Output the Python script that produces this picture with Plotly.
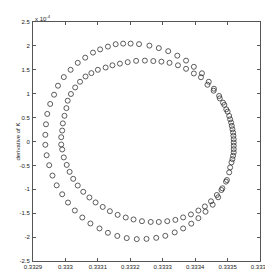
import plotly.graph_objects as go

# Outer loop (curvature K, dK/ds in units of 1e-4)
outer_K = [0.333518, 0.333515, 0.333511, 0.333505, 0.333496, 0.333486, 0.333474, 0.333458,
           0.333442, 0.333421, 0.333396, 0.333372, 0.333345, 0.333317, 0.333288, 0.333259,
           0.333227, 0.333201, 0.333178, 0.333155, 0.333131, 0.333107, 0.333085, 0.333061,
           0.333038, 0.333016, 0.332995, 0.332977, 0.332965, 0.332953, 0.332944, 0.332940,
           0.332938, 0.332938, 0.332942, 0.332950, 0.332960, 0.332973, 0.332990, 0.333008,
           0.333029, 0.333052, 0.333077, 0.333105, 0.333131, 0.333160, 0.333189, 0.333220,
           0.333250, 0.333280, 0.333308, 0.333337, 0.333363, 0.333388, 0.333410, 0.333432,
           0.333454, 0.333471, 0.333481, 0.333495, 0.333505, 0.333512, 0.333517, 0.333519,
           0.333519]
outer_dK = [0.119, 0.256, 0.396, 0.535, 0.673, 0.8125, 0.952, 1.104,
            1.25, 1.427, 1.5625, 1.692, 1.796, 1.890, 1.954, 2.006,
            2.0375, 2.048, 2.048, 2.035, 1.985, 1.927, 1.860, 1.754,
            1.646, 1.5, 1.348, 1.167, 0.979, 0.785, 0.577, 0.360,
            0.140, -0.069, -0.2875, -0.496, -0.7125, -0.917, -1.104, -1.277,
            -1.444, -1.590, -1.715, -1.819, -1.910, -1.975, -2.021, -2.042,
            -2.0375, -2.015, -1.973, -1.902, -1.819, -1.719, -1.604, -1.469,
            -1.323, -1.167, -1.015, -0.840, -0.646, -0.4375, -0.298, -0.160,
            -0.021]

# Inner loop
inner_K = [0.333519, 0.333517, 0.333513, 0.333508, 0.333500, 0.333490, 0.333476, 0.333457,
           0.333438, 0.333418, 0.333396, 0.333372, 0.333347, 0.333321, 0.333296, 0.333271,
           0.333245, 0.333218, 0.333192, 0.333168, 0.333145, 0.333124, 0.333100, 0.333080,
           0.333062, 0.333045, 0.333030, 0.333017, 0.333007, 0.333003, 0.332997, 0.332992,
           0.332990, 0.332987, 0.332987, 0.332990, 0.332995, 0.333004, 0.333013, 0.333024,
           0.333038, 0.333055, 0.333074, 0.333093, 0.333115, 0.333137, 0.333161, 0.333186,
           0.333210, 0.333236, 0.333263, 0.333288, 0.333314, 0.333339, 0.333363, 0.333387,
           0.333410, 0.333430, 0.333449, 0.333467, 0.333484, 0.333498, 0.333508, 0.333515,
           0.333519, 0.333519]
inner_dK = [0.048, 0.1875, 0.327, 0.465, 0.625, 0.765, 0.902, 1.0625,
            1.1875, 1.344, 1.423, 1.521, 1.594, 1.646, 1.671, 1.683,
            1.692, 1.6875, 1.660, 1.629, 1.594, 1.548, 1.5, 1.431,
            1.360, 1.25, 1.131, 0.994, 0.854, 0.698, 0.5375, 0.379,
            0.229, 0.090, -0.0625, -0.167, -0.333, -0.490, -0.635, -0.781,
            -0.921, -1.052, -1.171, -1.275, -1.369, -1.458, -1.535, -1.590,
            -1.631, -1.667, -1.683, -1.683, -1.667, -1.640, -1.588, -1.525,
            -1.444, -1.358, -1.25, -1.119, -0.979, -0.806, -0.542, -0.369,
            -0.229, -0.090]

x_tickvals = [0.3329, 0.3330, 0.3331, 0.3332, 0.3333, 0.3334, 0.3335, 0.3336]
x_ticktext = ["0.3329", "0.333", "0.3331", "0.3332", "0.3333", "0.3334", "0.3335", "0.3336"]
y_tickvals = [-2.5, -2, -1.5, -1, -0.5, 0, 0.5, 1, 1.5, 2, 2.5]
y_ticktext = ["-2.5", "-2", "-1.5", "-1", "-0.5", "0", "0.5", "1", "1.5", "2", "2.5"]

marker = dict(symbol="circle-open", size=5, color="#333333", line=dict(width=0.8, color="#333333"))

fig = go.Figure()
fig.add_trace(go.Scatter(x=outer_K, y=outer_dK, mode="markers", marker=marker, showlegend=False))
fig.add_trace(go.Scatter(x=inner_K, y=inner_dK, mode="markers", marker=marker, showlegend=False))

font = dict(family="Liberation Sans, Arial, sans-serif", size=6, color="#222222")

axis_common = dict(
    showgrid=False, zeroline=False, showline=True, linecolor="#555555", linewidth=1,
    mirror="allticks", ticks="inside", ticklen=3, tickwidth=1, tickcolor="#555555",
    tickfont=font,
)

fig.update_layout(
    width=273, height=273,
    margin=dict(l=20, r=11, t=14, b=19),
    paper_bgcolor="white", plot_bgcolor="white",
    font=font,
    xaxis=dict(range=[0.3329, 0.3336], tickvals=x_tickvals, ticktext=x_ticktext, ticklabelstandoff=0, **axis_common),
    yaxis=dict(range=[-2.5, 2.5], tickvals=y_tickvals, ticktext=y_ticktext, ticklabelstandoff=1, **axis_common),
    annotations=[
        dict(text="curvature K", x=0.5, y=-0.04, xref="paper", yref="paper",
             xanchor="center", yanchor="top", showarrow=False, font=font),
        dict(text="derivative of K", x=-0.07, y=0.5, xref="paper", yref="paper",
             xanchor="center", yanchor="middle", textangle=-90, showarrow=False, font=font),
        dict(text="x 10<sup>-4</sup>", x=0.0, y=1.0, xref="paper", yref="paper",
             xanchor="left", yanchor="bottom", showarrow=False, font=font, yshift=-2),
    ],
)

fig.write_html("out.html")
